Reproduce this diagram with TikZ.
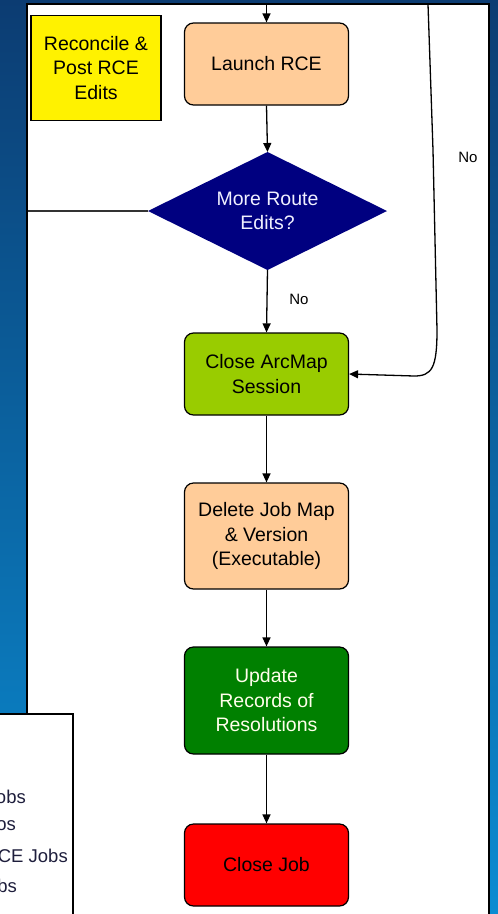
\documentclass[tikz,border=0pt]{standalone}
\usepackage{fontspec}
\setmainfont{Liberation Sans}
\usetikzlibrary{shapes.geometric,arrows.meta}

\definecolor{bgtop}{HTML}{0C3C72}
\definecolor{bgbot}{HTML}{0A8CD2}
\definecolor{peach}{HTML}{FFCC99}
\definecolor{lime}{HTML}{99CC00}
\definecolor{darkgreen}{HTML}{008000}
\definecolor{navy}{HTML}{000080}
\definecolor{legendtext}{HTML}{1E1E3C}

\tikzset{
  flowbox/.style={draw=black, line width=1.2pt, rounded corners=9pt,
    minimum width=164pt, align=center, inner sep=0pt,
    font=\fontsize{19.5}{24.5}\selectfont},
  noteline/.style={font=\fontsize{15}{18}\selectfont, text=black},
  flow/.style={draw=black, line width=1.3pt,
    -{Triangle[width=8pt,length=9pt]}},
  plainline/.style={draw=black!80, line width=1.3pt},
  legendentry/.style={anchor=east, inner sep=0pt,
    font=\fontsize{18.5}{21}\selectfont, text=legendtext}
}

\begin{document}
\begin{tikzpicture}[x=1pt,y=-1pt]
  \useasboundingbox (0,0) rectangle (498,914);

  % blue backdrop and white drawing sheet
  \shade[top color=bgtop, bottom color=bgbot] (0,0) rectangle (498,914);
  \fill[white] (27,4) rectangle (489,920);
  \draw[black, line width=2pt] (27,920) -- (27,4) -- (489,4) -- (489,920);

  % process steps
  \node[draw=black, line width=1.2pt, fill=yellow, minimum width=130pt,
        minimum height=105pt, align=center, inner sep=0pt,
        font=\fontsize{19.5}{24.5}\selectfont]
        (reconcile) at (96,68) {Reconcile \&\\Post RCE\\Edits};

  \node[flowbox, fill=peach, minimum height=82pt]
        (launch) at (266.5,64) {Launch RCE};

  % decision: empty diamond of fixed size, text set on top of it
  \node[draw=none, fill=navy, shape=diamond, inner sep=0pt, outer sep=0pt,
        aspect=2, minimum width=239pt, minimum height=118pt]
        (more) at (267.5,211) {};
  \node[align=center, text=blue!6, inner sep=0pt,
        font=\fontsize{19.5}{24.5}\selectfont]
        (moretext) at (more.center) {More Route\\Edits?};

  \node[flowbox, fill=lime, minimum height=82pt]
        (arcmap) at (266.5,374) {Close ArcMap\\Session};

  \node[flowbox, fill=peach, minimum height=106pt]
        (delete) at (266.5,536) {Delete Job Map\\\& Version\\(Executable)};

  \node[flowbox, fill=darkgreen, text=yellow!8, minimum height=107pt]
        (update) at (266.5,700.5) {Update\\Records of\\Resolutions};

  \node[flowbox, fill=red, minimum height=82pt]
        (closejob) at (266.5,865) {Close Job};

  % free ends of connectors
  \coordinate (topin) at (266.5,4);
  \coordinate (topright) at (428,4);
  \coordinate (leftout) at (28,211);

  % connectors
  \draw[flow] (topin) -- (launch.north);
  \draw[flow] (launch.south) -- (more.north);
  \draw[plainline] (more.west) -- (leftout);
  \draw[flow] (more.south) -- (arcmap.north);
  \draw[flow] (arcmap.south) -- (delete.north);
  \draw[flow] (delete.south) -- (update.north);
  \draw[flow] (update.south) -- (closejob.north);
  \draw[flow] (topright) -- (433,150) -- (437,330)
        .. controls (437,368) and (432,376) .. (414,376) -- (arcmap.east);

  % branch labels
  \node[noteline] (nodown) at (299,299) {No};
  \node[noteline] (noright) at (468,157) {No};

  % legend panel at the lower left
  \node[draw=black, line width=2pt, fill=white, anchor=north west,
        minimum width=75pt, minimum height=205pt, inner sep=0pt]
        (legend) at (-3,713) {};
  \node[legendentry] (lg1) at (26,797) {obs};
  \node[legendentry] (lg2) at (16,826) {os};
  \node[legendentry] (lg3) at (68,856) {CE Jobs};
  \node[legendentry] (lg4) at (17,886) {bs};
\end{tikzpicture}
\end{document}
